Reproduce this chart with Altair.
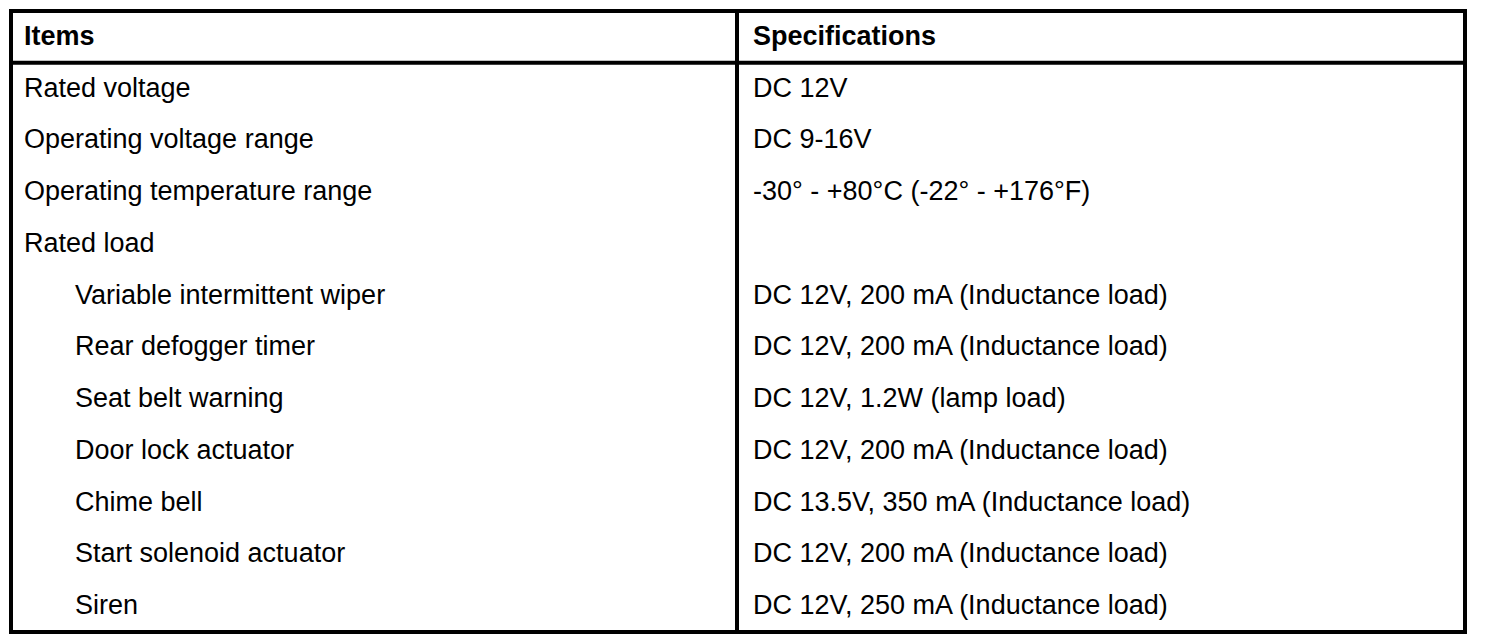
import altair as alt
import pandas as pd

# table content
header = ["Items", "Specifications"]
items = [
    "Rated voltage",
    "Operating voltage range",
    "Operating temperature range",
    "Rated load",
    "Variable intermittent wiper",
    "Rear defogger timer",
    "Seat belt warning",
    "Door lock actuator",
    "Chime bell",
    "Start solenoid actuator",
    "Siren",
]
indent = [0, 0, 0, 0, 1, 1, 1, 1, 1, 1, 1]
specs = [
    "DC 12V",
    "DC 9-16V",
    "-30° - +80°C (-22° - +176°F)",
    "",
    "DC 12V, 200 mA (Inductance load)",
    "DC 12V, 200 mA (Inductance load)",
    "DC 12V, 1.2W (lamp load)",
    "DC 12V, 200 mA (Inductance load)",
    "DC 13.5V, 350 mA (Inductance load)",
    "DC 12V, 200 mA (Inductance load)",
    "DC 12V, 250 mA (Inductance load)",
]

# layout
W, H = 1454, 621
col_edges = [0, 726, W]
pad_left = 13
pad_spec = 16
indent_x = 51
n_rows = len(items) + 1
FONT = "Liberation Sans"
FS = 27

x_scale = alt.Scale(domain=[0, W], nice=False, zero=False)
y_scale = alt.Scale(domain=[0, n_rows], nice=False, zero=False, reverse=True)

head_df = pd.DataFrame({
    "text": header,
    "x": [col_edges[0] + pad_left, col_edges[1] + pad_spec],
    "row": [0.5, 0.5],
})

body_df = pd.DataFrame({
    "text": items + specs,
    "x": [col_edges[0] + pad_left + i * indent_x for i in indent]
         + [col_edges[1] + pad_spec] * len(specs),
    "row": [r + 1.5 for r in range(len(items))] * 2,
})

hlines = pd.DataFrame({"y": [0, 1, n_rows], "x": [col_edges[0]] * 3, "x2": [col_edges[2]] * 3})
vlines = pd.DataFrame({"x": col_edges, "y": [0] * 3, "y2": [n_rows] * 3})

enc_x = alt.X("x:Q", scale=x_scale, axis=None)

head = alt.Chart(head_df).mark_text(
    align="left", baseline="middle", font=FONT, fontSize=FS, fontWeight="bold", color="black"
).encode(x=enc_x, y=alt.Y("row:Q", scale=y_scale, axis=None), text="text:N")

body = alt.Chart(body_df).mark_text(
    align="left", baseline="middle", font=FONT, fontSize=FS, color="black"
).encode(x=enc_x, y=alt.Y("row:Q", scale=y_scale, axis=None), text="text:N")

h_rules = alt.Chart(hlines).mark_rule(color="black", strokeWidth=4, strokeCap="square").encode(
    x=enc_x, x2="x2:Q", y=alt.Y("y:Q", scale=y_scale, axis=None)
)
v_rules = alt.Chart(vlines).mark_rule(color="black", strokeWidth=4, strokeCap="square").encode(
    x=enc_x, y=alt.Y("y:Q", scale=y_scale, axis=None), y2="y2:Q"
)

chart = (
    alt.layer(h_rules, v_rules, head, body)
    .properties(width=W, height=H, padding=3, autosize=alt.AutoSizeParams(type="none"))
    .configure_view(stroke=None)
)

chart.save("out.html", embed_options={"renderer": "svg", "actions": False})
